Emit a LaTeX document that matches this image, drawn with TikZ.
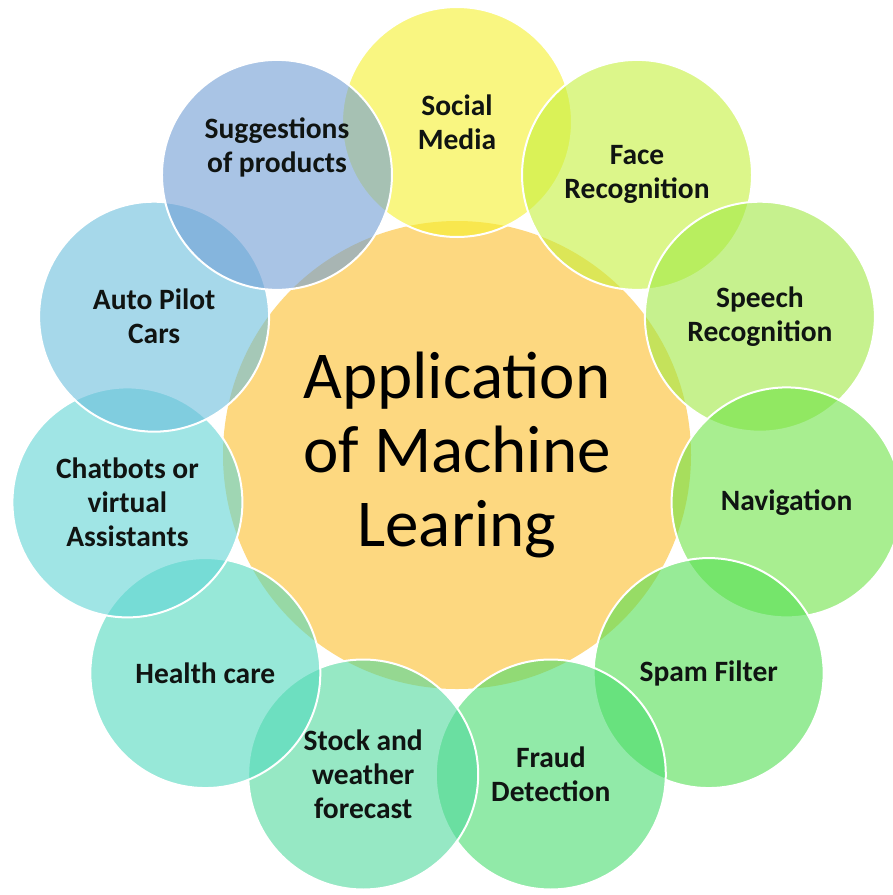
\documentclass[tikz,border=0pt]{standalone}
\usepackage{fontspec}
\setmainfont{Carlito}
\definecolor{corange}{RGB}{253,216,128}
\definecolor{k0}{RGB}{246,241,45}
\definecolor{k1}{RGB}{198,240,60}
\definecolor{k2}{RGB}{160,233,67}
\definecolor{k3}{RGB}{110,227,70}
\definecolor{k4}{RGB}{83,223,83}
\definecolor{k5}{RGB}{73,220,110}
\definecolor{k6}{RGB}{80,217,157}
\definecolor{k7}{RGB}{83,217,190}
\definecolor{k8}{RGB}{97,213,213}
\definecolor{k9}{RGB}{107,190,220}
\definecolor{k10}{RGB}{112,158,213}
\definecolor{txt}{RGB}{16,20,18}
\tikzset{
  bubble/.style={circle, minimum size=230pt, inner sep=0pt, fill=#1, fill opacity=0.6, draw=white, line width=2pt},
  lbl/.style={font=\fontsize{29.5}{34}\selectfont\bfseries, text=txt, align=center, inner sep=0pt},
  coretext/.style={font=\fontsize{67}{74}\selectfont, text=black, align=center, inner sep=0pt},
}
\begin{document}
\begin{tikzpicture}[x=1pt,y=-1pt]
\useasboundingbox (0,0) rectangle (893,895);
\clip (0,0) rectangle (893,895);
\fill[white] (0,0) rectangle (893,895);
\node[circle, fill=corange, minimum size=468pt, inner sep=0pt] (core) at (457,455) {};
\foreach \k in {0,...,10} {
  \pgfmathsetmacro\a{90-\k*360/11}
  \node[bubble=k\k] (c\k) at ({457+333*cos(\a)},{455-333*sin(\a)}) {};
}
\node[coretext] (title) at (core) {Application\\of Machine\\Learing};
\node[lbl] (l0) at (c0) {Social\\Media};
\node[lbl] (l1) at (c1) {Face\\Recognition};
\node[lbl] (l2) at (c2) {Speech\\Recognition};
\node[lbl] (l3) at (c3) {Navigation};
\node[lbl] (l4) at (c4) {Spam Filter};
\node[lbl] (l5) at (c5) {Fraud\\Detection};
\node[lbl] (l6) at (c6) {Stock and\\weather\\forecast};
\node[lbl] (l7) at (c7) {Health care};
\node[lbl] (l8) at (c8) {Chatbots or\\virtual\\Assistants};
\node[lbl] (l9) at (c9) {Auto Pilot\\Cars};
\node[lbl, yshift=27pt] (l10) at (c10) {Suggestions\\of products};
\end{tikzpicture}
\end{document}
